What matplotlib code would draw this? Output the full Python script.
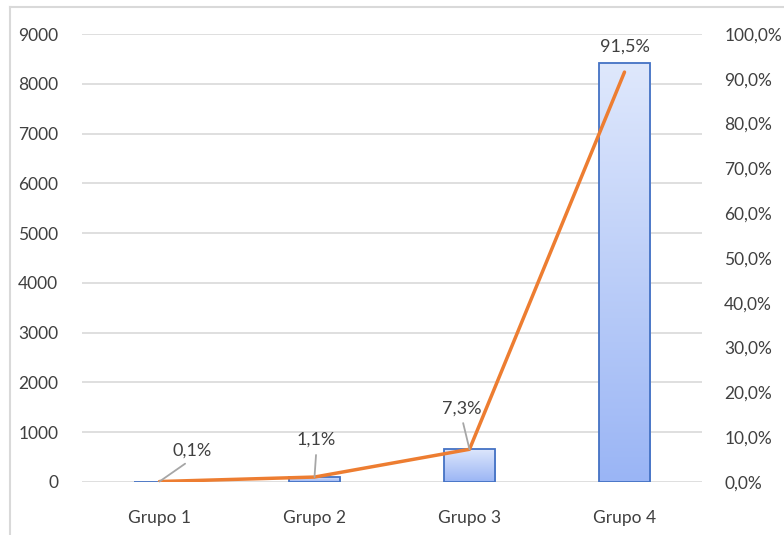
import numpy as np
import matplotlib
matplotlib.use("Agg")
import matplotlib.pyplot as plt
from matplotlib.colors import LinearSegmentedColormap
from matplotlib.lines import Line2D

plt.rcParams['font.family'] = ['Lato', 'DejaVu Sans']

grupos = ["Grupo 1", "Grupo 2", "Grupo 3", "Grupo 4"]
contagem = [9, 101, 671, 8415]
percentual = [0.001, 0.011, 0.073, 0.915]
rotulos = ["0,1%", "1,1%", "7,3%", "91,5%"]
# label offsets in pixels from the line point (Excel-style leader lines)
offsets = [(33, 31), (2, 37), (-8, 41), (0, 25)]
com_linha = [True, True, True, False]

fig = plt.figure(figsize=(7.84, 5.35), dpi=100)
ax = fig.add_axes([0.1046, 0.0991, 0.7908, 0.8373])
ax2 = ax.twinx()

x = np.arange(len(grupos))
largura = 0.33

cmap = LinearSegmentedColormap.from_list("azul", ["#9ab5f5", "#dfe8fc"])
grad = np.linspace(0, 1, 256).reshape(-1, 1)
bars = ax.bar(x, contagem, width=largura, facecolor="none", edgecolor="#4472c4",
              linewidth=1.3, zorder=3)
for b in bars:
    x0, y0 = b.get_x(), b.get_y()
    w, h = b.get_width(), b.get_height()
    im = ax.imshow(grad, cmap=cmap, origin="lower", aspect="auto",
                   extent=[x0, x0 + w, y0, y0 + h], zorder=2)
    im.set_clip_path(b)

ax.set_xlim(-0.5, 3.5)
ax.set_ylim(0, 9000)
ax.set_yticks(range(0, 9001, 1000))
ax.set_xticks(x)
ax.set_xticklabels(grupos)
ax.yaxis.grid(True, color="#d9d9d9", linewidth=1.2, zorder=0)
ax.set_axisbelow(True)

ax2.plot(x, percentual, color="#ed7d31", linewidth=2.5, zorder=4,
         solid_capstyle="round")
ax2.set_ylim(0, 1.0)
ax2.set_yticks(np.arange(0, 1.01, 0.1))
ax2.set_yticklabels([f"{v*100:.1f}%".replace(".", ",") for v in np.arange(0, 1.01, 0.1)])

for i in range(len(grupos)):
    if com_linha[i]:
        ap = dict(arrowstyle="-", color="#a6a6a6", linewidth=1.3,
                  shrinkA=3, shrinkB=0, relpos=(0.5, 0.0))
    else:
        ap = None
    ax2.annotate(rotulos[i], xy=(x[i], percentual[i]), xytext=offsets[i],
                 textcoords="offset pixels", ha="center", va="center",
                 fontsize=13, color="#404040", arrowprops=ap, zorder=5)

for a in (ax, ax2):
    for s in a.spines.values():
        s.set_visible(False)
    a.tick_params(length=0, labelsize=12.5, labelcolor="#404040")
ax.tick_params(axis="y", pad=17)
ax2.tick_params(axis="y", pad=16)
ax.tick_params(axis="x", pad=20)

# chart border (left and top edges visible in the crop)
fig.add_artist(Line2D([0.0128, 0.0128], [0, 0.987], color="#d9d9d9", linewidth=1.5,
                      transform=fig.transFigure))
fig.add_artist(Line2D([0.0128, 1.0], [0.987, 0.987], color="#d9d9d9", linewidth=1.5,
                      transform=fig.transFigure))

fig.savefig("out.png", dpi=100)
